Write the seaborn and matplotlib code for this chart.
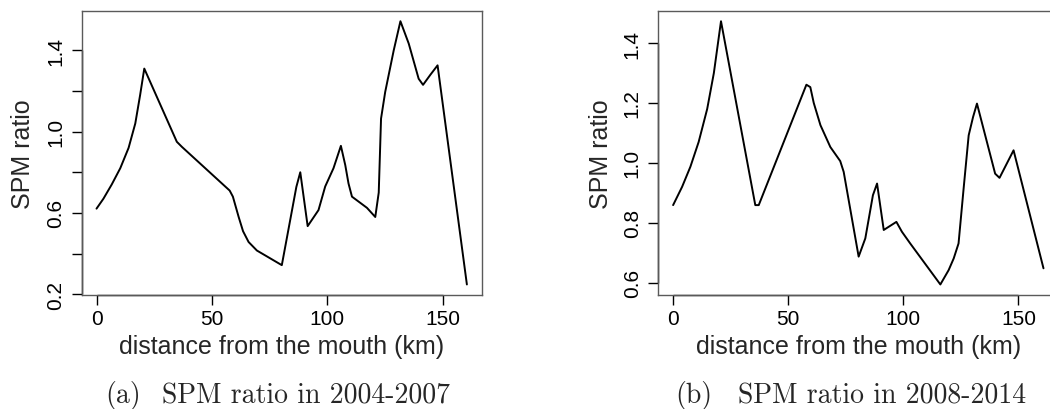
import numpy as np
import pandas as pd
import matplotlib
matplotlib.use("Agg")
import matplotlib.pyplot as plt
import seaborn as sns

# ---- data ----
dist_a = [0, 3, 6.6, 10.3, 13.9, 16.8, 18.9, 20.7, 34.8, 37, 57.7, 59.1, 61.6,
          63.5, 65.9, 69.5, 80.3, 86.6, 88.3, 91.5, 96.2, 99.1, 102.7, 105.9,
          107.8, 109.2, 110.7, 117.2, 120.8, 122.3, 123.3, 125.1, 128.8, 131.7,
          135.3, 139.6, 141.5, 144.7, 147.8, 160.5]
ratio_a = [0.621, 0.67, 0.74, 0.82, 0.92, 1.04, 1.18, 1.31, 0.95, 0.925, 0.71,
           0.68, 0.58, 0.51, 0.457, 0.415, 0.343, 0.728, 0.80, 0.535, 0.614,
           0.73, 0.82, 0.93, 0.835, 0.745, 0.68, 0.625, 0.58, 0.70, 1.064,
           1.195, 1.40, 1.543, 1.433, 1.26, 1.23, 1.28, 1.326, 0.248]

dist_b = [0, 3.9, 7.5, 11.1, 14.8, 17.7, 20.8, 35.7, 37.2, 57.9, 59.6, 61.1,
          64, 68.3, 72.6, 74.1, 80.6, 83.5, 86.8, 88.6, 91.5, 97, 99.4, 103,
          116.1, 119.7, 121.9, 124, 126.2, 128.4, 130.3, 132, 139.9, 141.8,
          147.9, 160.9]
ratio_b = [0.859, 0.92, 0.987, 1.07, 1.18, 1.30, 1.473, 0.859, 0.859, 1.261,
           1.253, 1.20, 1.126, 1.053, 1.006, 0.97, 0.687, 0.748, 0.892, 0.931,
           0.776, 0.803, 0.77, 0.731, 0.594, 0.642, 0.681, 0.731, 0.914, 1.092,
           1.153, 1.198, 0.964, 0.95, 1.042, 0.648]

xticks = [0, 50, 100, 150]
xtick_labels = ["0", "50", "100", "150"]
yticks_a = [0.2, 0.4, 0.6, 0.8, 1.0, 1.2, 1.4]
ytick_labels_a = ["0.2", "", "0.6", "", "1.0", "", "1.4"]
yticks_b = [0.6, 0.8, 1.0, 1.2, 1.4]
ytick_labels_b = ["0.6", "0.8", "1.0", "1.2", "1.4"]
xlabel = "distance from the mouth (km)"
ylabel = "SPM ratio"
tags = ["(a)", "(b)"]
captions = ["SPM ratio in 2004-2007", "SPM ratio in 2008-2014"]

# ---- style ----
sns.set_style("ticks")
plt.rcParams["font.family"] = ["Liberation Sans", "DejaVu Sans"]

W, H = 1050, 410
fig = plt.figure(figsize=(W / 100, H / 100), dpi=100)

def ax_rect(left_px, right_px, top_px, bottom_px):
    return [left_px / W, 1 - bottom_px / H, (right_px - left_px) / W,
            (bottom_px - top_px) / H]

ax_a = fig.add_axes(ax_rect(81.7, 481.7, 11.7, 296))
ax_b = fig.add_axes(ax_rect(658.3, 1058.3, 11.7, 296))

panels = [
    (ax_a, dist_a, ratio_a, yticks_a, ytick_labels_a, -0.147),
    (ax_b, dist_b, ratio_b, yticks_b, ytick_labels_b, -0.143),
]

spine_col = "#5a5a5a"
for ax, xs, ys, yt, ytl, ylab_x in panels:
    df = pd.DataFrame({"dist": xs, "ratio": ys})
    sns.lineplot(data=df, x="dist", y="ratio", ax=ax, color="black",
                 linewidth=1.4, estimator=None, sort=False)
    xr = max(xs) - min(xs)
    yr = max(ys) - min(ys)
    ax.set_xlim(min(xs) - 0.04 * xr, max(xs) + 0.04 * xr)
    ax.set_ylim(min(ys) - 0.04 * yr, max(ys) + 0.04 * yr)
    ax.set_xticks(xticks)
    ax.set_xticklabels(xtick_labels)
    ax.set_yticks(yt)
    ax.set_yticklabels(ytl, rotation=90, va="center")
    ax.tick_params(direction="out", length=7, width=1, colors="black",
                   labelsize=15, pad=3)
    ax.tick_params(axis="y", pad=5)
    for s in ax.spines.values():
        s.set_visible(True)
        s.set_color(spine_col)
        s.set_linewidth(1.0)
    # darker axis lines between first and last tick (as in base R axis())
    ax.plot([xticks[0], xticks[-1]], [0, 0], transform=ax.get_xaxis_transform(),
            color="black", lw=1.0, clip_on=False, solid_capstyle="butt")
    ax.plot([0, 0], [yt[0], yt[-1]], transform=ax.get_yaxis_transform(),
            color="black", lw=1.0, clip_on=False, solid_capstyle="butt")
    ax.set_xlabel(xlabel, fontsize=18, va="center")
    ax.set_ylabel(ylabel, fontsize=18, va="center")
    ax.xaxis.set_label_coords(0.5, -0.179)
    ax.yaxis.set_label_coords(ylab_x, 0.5)
    ax.grid(False)

# captions (serif, Computer Modern)
cap_font = ["cmr10", "DejaVu Serif"]
cap_y = 1 - 403.5 / H
for tag, cap, tag_x, cap_x in zip(tags, captions, [105, 675], [161.7, 738.3]):
    fig.text(tag_x / W, cap_y, tag, family=cap_font, fontsize=20, va="baseline",
             ha="left")
    fig.text(cap_x / W, cap_y, cap, family=cap_font, fontsize=20, va="baseline",
             ha="left")

fig.savefig("out.png", dpi=100)
